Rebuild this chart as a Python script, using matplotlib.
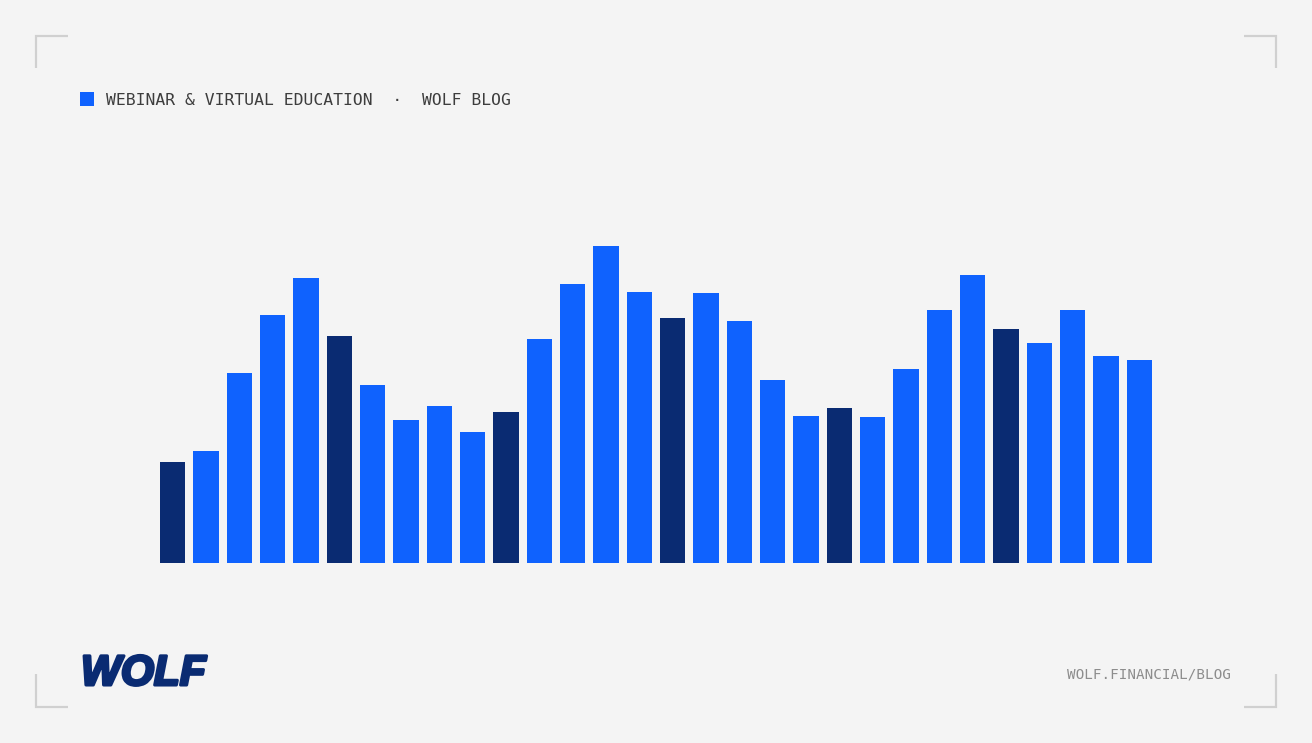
import numpy as np
import matplotlib.pyplot as plt
import matplotlib.patheffects as pe
from matplotlib.lines import Line2D
from matplotlib.patches import Rectangle

# bar values (arbitrary units, baseline = 0)
valores = [101, 112, 190, 248, 285, 227, 178, 143, 157, 131,
           151, 224, 279, 317, 271, 245, 270, 242, 183, 147,
           155, 146, 194, 253, 288, 234, 220, 253, 207, 203]
destaques = [0, 5, 10, 15, 20, 25]

legenda = "WEBINAR & VIRTUAL EDUCATION  \u00b7  WOLF BLOG"
rodape = "WOLF.FINANCIAL/BLOG"
logo = "WOLF"

fundo = "#f4f4f4"
azul = "#0f62fe"
azul_escuro = "#0a2b72"
cinza_canto = "#d0d0d0"

W, H = 1312, 743
fig = plt.figure(figsize=(W / 100, H / 100), dpi=100, facecolor=fundo)

# chart area (pixel layout converted to figure fractions)
esq, dir_, base, topo = 160, 1152, 562.7, 242.7
ax = fig.add_axes([esq / W, 1 - base / H, (dir_ - esq) / W, (base - topo) / H])
ax.set_facecolor(fundo)

x = np.arange(len(valores))
cores = [azul_escuro if i in destaques else azul for i in x]
largura = 0.76
ax.bar(x, valores, width=largura, color=cores, linewidth=0)
ax.set_xlim(-largura / 2, len(valores) - 1 + largura / 2)
ax.set_ylim(0, base - topo)
ax.axis("off")

# overlay in pixel coordinates for frame decorations and text
sob = fig.add_axes([0, 0, 1, 1], facecolor="none")
sob.set_xlim(0, W)
sob.set_ylim(H, 0)
sob.axis("off")

cantos = [
    ([36, 36, 68], [68, 36, 36]),
    ([1244, 1276, 1276], [36, 36, 68]),
    ([36, 36, 68], [674, 707, 707]),
    ([1244, 1276, 1276], [707, 707, 674]),
]
for cx, cy in cantos:
    sob.add_line(Line2D(cx, cy, color=cinza_canto, linewidth=1.6,
                        solid_capstyle="butt", solid_joinstyle="miter"))

sob.add_patch(Rectangle((80, 92), 14, 14, color=azul, linewidth=0))
sob.text(106, 100.5, legenda, fontfamily="DejaVu Sans Mono", fontsize=11.8,
         color="#3d3d3d", ha="left", va="center")

sob.text(1231, 674, rodape, fontfamily="DejaVu Sans Mono", fontsize=10.3,
         color="#8d8d8d", ha="right", va="center")

sob.text(81, 674, logo, fontfamily="Liberation Sans", fontweight="bold",
         fontstyle="italic", fontsize=30.5, color=azul_escuro,
         ha="left", va="center",
         path_effects=[pe.withStroke(linewidth=2.2, foreground=azul_escuro)])

fig.savefig("out.png", dpi=100, facecolor=fundo)
